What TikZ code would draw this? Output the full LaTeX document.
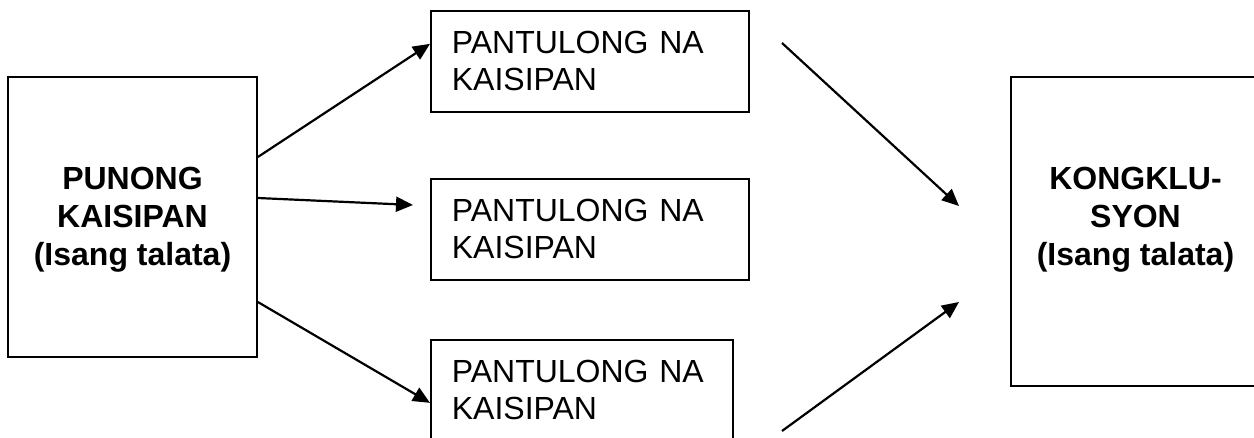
\documentclass[tikz,border=0pt]{standalone}
\usepackage{fontspec}
\setmainfont{Liberation Sans}
\usetikzlibrary{arrows.meta}

\tikzset{
	mainbox/.style={draw, line width=1.7pt, minimum width=249pt, inner sep=0pt},
	bigtext/.style={align=center, inner sep=0pt, font=\fontsize{32}{38}\selectfont\bfseries},
	sidebox/.style={draw, line width=1.7pt, minimum height=101pt, inner xsep=21pt, inner ysep=0pt,
		align=left, anchor=north west, font=\fontsize{32}{37}\selectfont},
	link/.style={line width=2.2pt, -{Triangle[length=17pt,width=15pt]}}
}

\begin{document}
\begin{tikzpicture}[x=1pt,y=-1pt]
					\useasboundingbox (0,0) rectangle (1254,438);
					% main idea and conclusion
					\node[mainbox, minimum height=280pt] (pun) at (132.5,217) {};
					\node[mainbox, minimum height=309pt] (kon) at (1135.5,231.5) {};
					\node[bigtext] (punText) at ([yshift=-3pt]pun.center) {PUNONG\\KAISIPAN\\(Isang talata)};
					\node[bigtext] (konText) at (punText.center -| kon.center) {KONGKLU-\\SYON\\(Isang talata)};
					% supporting ideas
					\foreach \n/\top/\w in {1/10/276,2/178/276,3/339/260}
						\node[sidebox, text width=\w pt] (sup\n) at (430,\top) {PANTULONG NA\\KAISIPAN};
					% free ends
					\coordinate (tipMid) at (413,205);
					\coordinate (fromTop) at (782,43);
					\coordinate (toTop) at (959,206);
					\coordinate (fromBot) at (782,431);
					\coordinate (toBot) at (959,302);
					% arrows
					\draw[link] ([yshift=60pt]pun.east) -- ([yshift=17.5pt]sup1.west);
					\draw[link] ([yshift=19pt]pun.east) -- (tipMid);
					\draw[link] ([yshift=-85pt]pun.east) -- ([yshift=-12.5pt]sup3.west);
					\draw[link] (fromTop) -- (toTop);
					\draw[link] (fromBot) -- (toBot);
\end{tikzpicture}
\end{document}
